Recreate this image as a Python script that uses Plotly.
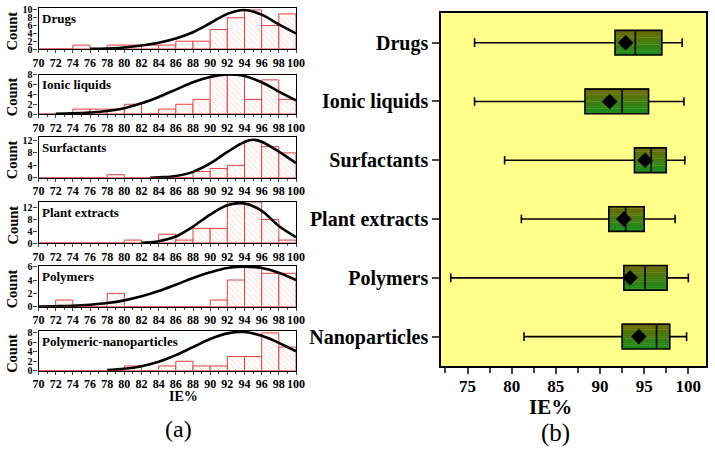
import plotly.graph_objects as go

# ---------------- data: histograms (a) ----------------
bin_centers = [71, 73, 75, 77, 79, 81, 83, 85, 87, 89, 91, 93, 95, 97, 99]
panel_names = ["Drugs", "Ionic liquids", "Surfactants", "Plant extracts",
               "Polymers", "Polymeric-nanoparticles"]

drugs_counts = [0, 0, 1, 0, 1, 1, 1, 1, 2, 2, 5, 8, 10, 6, 9]
ionic_counts = [0, 0, 1, 1, 1, 2, 0, 1, 2, 3, 8, 8, 3, 7, 3]
surf_counts = [0, 0, 0, 0, 1, 0, 0, 0, 0, 2, 3, 4, 12, 10, 8]
plant_counts = [0, 0, 0, 0, 0, 1, 0, 3, 1, 5, 5, 14, 14, 8, 1]
poly_counts = [0, 1, 0, 0, 2, 0, 0, 0, 0, 0, 1, 4, 6, 5, 5]
nano_counts = [0, 0, 0, 0, 0, 1, 0, 1, 2, 1, 1, 3, 3, 8, 5]

# fitted normal curves
drugs_curve_x = [76, 78, 80, 82, 84, 86, 88, 90, 92, 94, 96, 98, 100]
drugs_curve_y = [0.02, 0.1, 0.4, 0.9, 1.6, 2.7, 4.3, 6.6, 9.0, 10.0, 8.8, 6.3, 4.0]
ionic_curve_x = [72, 74, 76, 78, 80, 82, 84, 86, 88, 90, 92, 94, 96, 98, 100]
ionic_curve_y = [0.03, 0.12, 0.3, 0.6, 1.2, 2.2, 3.5, 5.0, 6.5, 7.6, 8.1, 7.8, 6.5, 4.6, 2.8]
surf_curve_x = [83, 84, 86, 88, 90, 92, 94, 95, 96, 98, 100]
surf_curve_y = [0.0, 0.15, 0.6, 1.9, 4.6, 8.3, 11.5, 12.2, 11.6, 8.4, 4.7]
plant_curve_x = [82, 84, 86, 88, 90, 92, 94, 96, 98, 100]
plant_curve_y = [0.05, 0.6, 2.2, 5.6, 9.7, 12.9, 13.5, 11.0, 5.8, 2.0]
poly_curve_x = [70, 72, 74, 76, 78, 80, 82, 84, 86, 88, 90, 92, 94, 96, 98, 100]
poly_curve_y = [0.03, 0.07, 0.14, 0.3, 0.55, 0.95, 1.55, 2.35, 3.3, 4.3, 5.15, 5.8, 6.0, 5.8, 5.1, 4.0]
nano_curve_x = [78, 80, 82, 84, 86, 88, 90, 92, 94, 96, 98, 100]
nano_curve_y = [0.15, 0.4, 0.95, 1.9, 3.3, 5.0, 6.7, 7.9, 8.2, 7.4, 5.9, 4.1]

hist_counts = [drugs_counts, ionic_counts, surf_counts, plant_counts, poly_counts, nano_counts]
curves_x = [drugs_curve_x, ionic_curve_x, surf_curve_x, plant_curve_x, poly_curve_x, nano_curve_x]
curves_y = [drugs_curve_y, ionic_curve_y, surf_curve_y, plant_curve_y, poly_curve_y, nano_curve_y]
hist_ymax = [10.5, 8.1, 13.2, 14.0, 6.1, 8.4]
hist_dtick = [2, 2, 4, 4, 2, 2]

# ---------------- data: box plot (b) ----------------
categories = ["Drugs", "Ionic liquids", "Surfactants", "Plant extracts", "Polymers", "Nanoparticles"]
lower = [75.8, 75.8, 79.2, 81.1, 73.1, 81.4]
q1 = [91.7, 88.3, 93.9, 91.0, 92.7, 92.5]
median = [94.0, 92.5, 95.8, 92.9, 95.1, 96.4]
q3 = [97.0, 95.5, 97.5, 95.0, 97.6, 97.9]
upper = [99.3, 99.5, 99.6, 98.5, 100.0, 99.8]
mean = [92.9, 91.1, 95.1, 92.7, 93.4, 94.4]

# ---------------- layout helpers (pixels -> paper) ----------------
W, H = 715, 471
FONT = "Liberation Serif"


def px(v):
    return v / W


def py(v):
    return 1 - v / H


panel_base = [49, 114, 177.8, 243, 306.7, 370.7]
panel_top = [8, 74.5, 136.7, 202, 266, 331]

fig = go.Figure()
layout = dict(
    width=W, height=H, margin=dict(l=0, r=0, t=0, b=0, autoexpand=False),
    paper_bgcolor="white", plot_bgcolor="white", showlegend=False,
    barmode="overlay", font=dict(family=FONT, color="black"),
)
annotations = []
shapes = []

for i in range(6):
    n = i + 1
    suf = "" if n == 1 else str(n)
    xa, ya = "x" + suf, "y" + suf
    fig.add_trace(go.Bar(
        x=bin_centers, y=hist_counts[i], width=2, xaxis=xa, yaxis=ya,
        marker=dict(color="white", line=dict(color="#e5403b", width=1),
                    pattern=dict(shape="\\", fgcolor="#e8908c", bgcolor="white",
                                 size=4, solidity=0.2)),
    ))
    fig.add_trace(go.Scatter(
        x=curves_x[i], y=curves_y[i], mode="lines", xaxis=xa, yaxis=ya,
        line=dict(color="black", width=2.6, shape="spline"),
    ))
    layout["xaxis" + suf] = dict(
        domain=[px(38.5), px(296)], anchor=ya, range=[70, 100], automargin=False,
        tick0=70, dtick=2, tickangle=0, ticks="outside", ticklen=3, tickwidth=1,
        ticklabelstandoff=-1,
        minor=dict(dtick=1, ticks="outside", ticklen=2, tickwidth=1),
        showline=True, linecolor="black", linewidth=1.2, mirror=True,
        showgrid=False, zeroline=False,
        tickfont=dict(family=FONT, size=12, weight="bold"),
    )
    layout["yaxis" + suf] = dict(
        domain=[py(panel_base[i]), py(panel_top[i])], anchor=xa, automargin=False,
        range=[0, hist_ymax[i]], tick0=0, dtick=hist_dtick[i],
        ticks="outside", ticklen=4, tickwidth=1, ticklabelstandoff=-1,
        showline=True, linecolor="black", linewidth=1.2, mirror=True,
        showgrid=False, zeroline=False,
        tickfont=dict(family=FONT, size=10, weight="bold"),
    )
    annotations.append(dict(
        text=panel_names[i], xref=xa + " domain", yref=ya + " domain",
        x=0.005, y=1, xanchor="left", yanchor="top", yshift=-1, showarrow=False,
        font=dict(family=FONT, size=13, weight="bold"),
    ))
    annotations.append(dict(
        text="Count", xref="paper", yref="paper", x=px(12),
        y=py((panel_base[i] + panel_top[i]) / 2 + 3), textangle=-90,
        xanchor="center", yanchor="middle", showarrow=False,
        font=dict(family=FONT, size=14.5, weight="bold"),
    ))

# ---------------- box plot ----------------
idx = list(range(len(categories)))
box_w = 0.42
N = 14
c_top = (115, 104, 0)
c_bot = (22, 140, 30)
for k in range(N):
    t = (k + 0.5) / N
    col = "rgb(%d,%d,%d)" % tuple(round(a + (b - a) * t) for a, b in zip(c_top, c_bot))
    fig.add_trace(go.Bar(
        y=[j - box_w / 2 + (k + 0.5) * box_w / N for j in idx],
        x=[b - a for a, b in zip(q1, q3)], base=q1, width=box_w / N * 1.05,
        orientation="h", marker=dict(color=col, line=dict(width=0)),
        xaxis="x7", yaxis="y7",
    ))

fig.add_trace(go.Box(
    y=idx, q1=q1, median=median, q3=q3, lowerfence=lower, upperfence=upper,
    orientation="h", width=box_w, whiskerwidth=0.35, boxpoints=False,
    fillcolor="rgba(0,0,0,0)", line=dict(color="black", width=1.6),
    xaxis="x7", yaxis="y7",
))
fig.add_trace(go.Scatter(
    x=mean, y=idx, mode="markers", xaxis="x7", yaxis="y7",
    marker=dict(symbol="diamond", size=12, color="black"),
))

layout["xaxis7"] = dict(
    domain=[px(441), px(706)], anchor="y7", range=[72, 102], automargin=False,
    tick0=75, dtick=5, ticks="outside", ticklen=6, tickwidth=1.5,
    ticklabelstandoff=-2,
    minor=dict(dtick=2.5, ticks="outside", ticklen=5, tickwidth=1.5),
    showline=True, linecolor="black", linewidth=1.6, mirror=True,
    showgrid=False, zeroline=False,
    tickfont=dict(family=FONT, size=17, weight="bold"),
)
layout["yaxis7"] = dict(
    domain=[py(366), py(13.3)], anchor="x7", range=[5.5, -0.5], automargin=False,
    tickvals=idx, ticktext=categories, ticks="outside", ticklen=7, tickwidth=1.5,
    showline=True, linecolor="black", linewidth=1.6, mirror=True,
    showgrid=False, zeroline=False,
    tickfont=dict(family=FONT, size=20, weight="bold"),
)
shapes.append(dict(type="rect", xref="x7 domain", yref="y7 domain",
                   x0=0, x1=1, y0=0, y1=1, layer="below",
                   fillcolor="#ffff8a", line=dict(width=0)))

annotations += [
    dict(text="IE%", xref="paper", yref="paper", x=px(167), y=py(406),
         showarrow=False, font=dict(family=FONT, size=14, weight="bold")),
    dict(text="(a)", xref="paper", yref="paper", x=px(163), y=py(444),
         showarrow=False, font=dict(family=FONT, size=24)),
    dict(text="IE%", xref="paper", yref="paper", x=px(573.5), y=py(421),
         showarrow=False, font=dict(family=FONT, size=21, weight="bold")),
    dict(text="(b)", xref="paper", yref="paper", x=px(571.5), y=py(449),
         showarrow=False, font=dict(family=FONT, size=25)),
]
layout["annotations"] = annotations
layout["shapes"] = shapes
fig.update_layout(**layout)

fig.write_html("out.html", config={"displayModeBar": False},
               post_script="document.body.style.margin='0px';")
